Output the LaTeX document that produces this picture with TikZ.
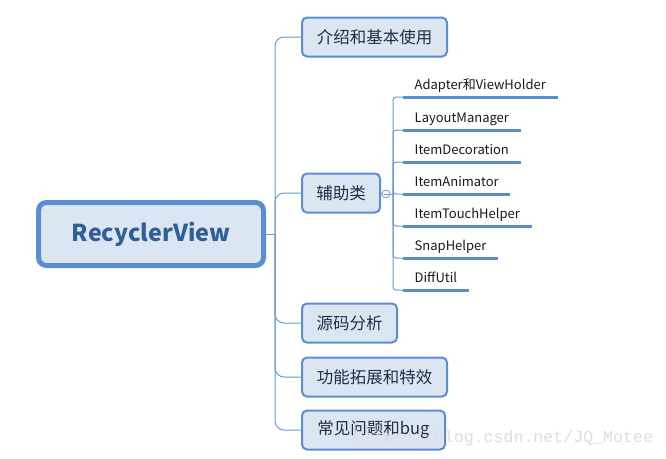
\documentclass[tikz,border=0pt]{standalone}
\usepackage{fontspec}
\setmainfont{Noto Sans CJK SC}
\newfontfamily\wmfont{Liberation Mono}
\definecolor{bord}{HTML}{5A8ED2}
\definecolor{boxfill}{HTML}{DCE6F2}
\definecolor{roottext}{HTML}{305E98}
\definecolor{boxtext}{HTML}{1E2E4A}
\definecolor{lnk}{HTML}{6A9AD8}
\begin{document}
\begin{tikzpicture}[x=1pt,y=-1pt,
  rootbox/.style={draw=bord,fill=boxfill,line width=5pt,rounded corners=8pt,
    minimum width=225pt,minimum height=63pt,inner sep=0pt,
    font=\fontsize{23.3}{28}\selectfont\bfseries,text=roottext},
  topicbox/.style={draw=bord,fill=boxfill,line width=2pt,rounded corners=5pt,
    minimum height=39pt,inner sep=0pt,anchor=west,
    font=\fontsize{16.5}{20}\selectfont,text=boxtext},
  subitem/.style={anchor=south west,inner xsep=11.5pt,inner ysep=2pt,
    text height=10pt,text depth=5pt,font=\fontsize{13}{15}\selectfont,text=black!90},
  uline/.style={draw=bord,line width=3pt},
  conn/.style={draw=lnk,line width=1pt},
]
\useasboundingbox (0,0) rectangle (666,458);
\fill[white] (0,0) rectangle (666,458);

% root
\node[rootbox] (root) at (151,234) {RecyclerView};

% topics
\node[topicbox,minimum width=145pt] (b1) at (301,37) {介绍和基本使用};
\node[topicbox,minimum width=78pt] (b2) at (301,193) {辅助类};
\node[topicbox,minimum width=95pt] (b3) at (301,323) {源码分析};
\node[topicbox,minimum width=145pt] (b4) at (301,377) {功能拓展和特效};
\node[topicbox,minimum width=143pt] (b5) at (301,430) {常见问题和bug};

% trunk
\coordinate (tr) at (275,234);
\draw[conn] (root.east) -- (tr);
\foreach \b in {b1,b2,b3,b4,b5}{
  \draw[conn,rounded corners=9pt] (\b.west) -| (tr);
}

% collapse circle
\node[circle,draw=lnk,fill=white,line width=0.8pt,minimum size=8pt,inner sep=0pt] (circ) at (386,194) {};
\draw[lnk,line width=0.8pt] ([xshift=-2.5pt]circ.center) -- ([xshift=2.5pt]circ.center);
\coordinate (vc) at (393,194);
\draw[conn] (b2.east) -- (circ.west);
\draw[conn] (circ.east) -- (vc);

% sub items
\node[subitem] (c1) at (403,97) {Adapter和ViewHolder};
\node[subitem] (c2) at (403,130) {LayoutManager};
\node[subitem] (c3) at (403,162) {ItemDecoration};
\node[subitem] (c4) at (403,194) {ItemAnimator};
\node[subitem] (c5) at (403,226) {ItemTouchHelper};
\node[subitem] (c6) at (403,258) {SnapHelper};
\node[subitem] (c7) at (403,290) {DiffUtil};
\foreach \c in {c1,c2,c3,c4,c5,c6,c7}{
  \draw[conn,rounded corners=3pt] (\c.south west) -| (vc);
  \draw[uline] (\c.south west) -- (\c.south east);
}

% watermark
\node[anchor=west,inner sep=0pt,text=black!13,font=\wmfont\fontsize{16.6}{18}\selectfont] (wm) at (354,438) {https://blog.csdn.net/JQ\_Motee};
\end{tikzpicture}
\end{document}
